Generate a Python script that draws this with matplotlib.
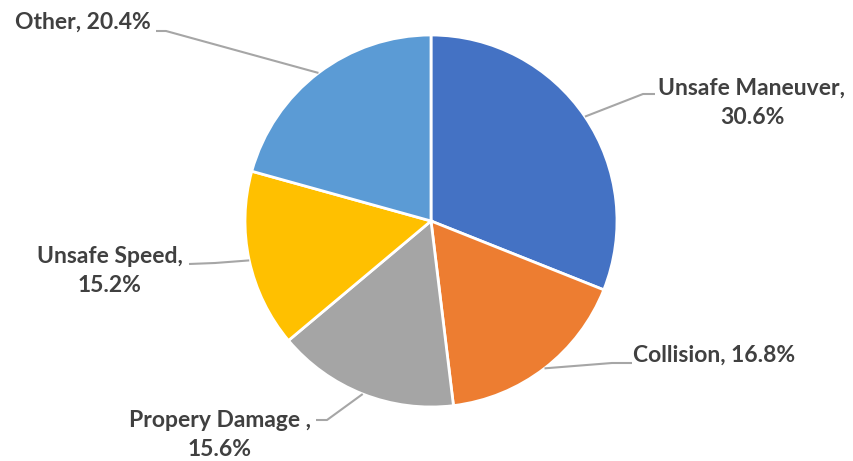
import numpy as np
import matplotlib
matplotlib.use("Agg")
import matplotlib.pyplot as plt

W, H = 854, 461

categories = ["Unsafe Maneuver", "Collision", "Propery Damage ", "Unsafe Speed", "Other"]
shares = [30.6, 16.8, 15.6, 15.2, 20.4]
colors = ["#4472C4", "#ED7D31", "#A5A5A5", "#FFC000", "#5B9BD5"]
# two-line labels break after the comma
wrapped = [True, False, True, True, False]

# label layout in pixel coords (top-left origin): text anchor, elbow, line end
label_pos = [(752, 103), (633, 355), (220, 435), (110, 271), (151, 22)]
label_ha = ["center", "left", "center", "center", "right"]
elbows = [(643, 94), (612, 363), (327, 420), (215, 263), (166, 31)]
line_ends = [(655, 94), (632, 363), (316, 420), (189, 264), (156, 31)]


def px(x, y):
    # pixel (top-left origin) -> data coords
    return x, H - y


plt.rcParams["font.family"] = ["Lato", "DejaVu Sans"]

fig = plt.figure(figsize=(W / 100, H / 100), dpi=100)
ax = fig.add_axes([0, 0, 1, 1])

cx, cy = px(431, 221)
r = 186
wedges, _ = ax.pie(shares, colors=colors, startangle=90, counterclock=False,
                   center=(cx, cy), radius=r,
                   wedgeprops=dict(edgecolor="white", linewidth=2))
ax.set_xlim(0, W)
ax.set_ylim(0, H)
ax.set_aspect("equal")
ax.axis("off")

for i, w in enumerate(wedges):
    mid = np.deg2rad((w.theta1 + w.theta2) / 2)
    ax_, ay_ = cx + r * np.cos(mid), cy + r * np.sin(mid)
    ex, ey = px(*elbows[i])
    lx, ly = px(*line_ends[i])
    ax.plot([ax_, ex, lx], [ay_, ey, ly], color="#A6A6A6", lw=1.5,
            solid_capstyle="butt", zorder=1)
    sep = ",\n" if wrapped[i] else ", "
    txt = f"{categories[i]}{sep}{shares[i]}%"
    tx, ty = px(*label_pos[i])
    ax.text(tx, ty, txt, ha=label_ha[i], va="center", multialignment="center",
            fontsize=16.5, fontweight="bold", color="#404040", linespacing=1.5)

fig.savefig("out.png", dpi=100)
